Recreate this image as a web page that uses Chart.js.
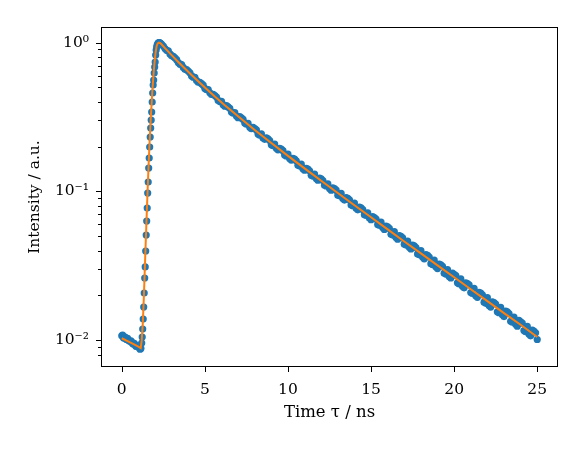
<!DOCTYPE html>
<html>
<head>
<meta charset="utf-8">
<script src="https://cdn.jsdelivr.net/npm/chart.js@4.4.1/dist/chart.umd.min.js"></script>
<style>
  html, body { margin: 0; padding: 0; background: #fff; }
  #wrap { width: 588px; height: 454px; }
</style>
</head>
<body>
<div id="wrap"><canvas id="js-decay" width="588" height="454"></canvas></div>
<script>
"use strict";

// 測定データ（立ち上がり前）
const baselineTime = [0.0, 0.05, 0.1, 0.15, 0.2, 0.25, 0.3, 0.35, 0.4, 0.45, 0.5, 0.55, 0.6, 0.65, 0.7, 0.75, 0.8, 0.85, 0.9,
  0.95, 1.0, 1.05, 1.1, 1.15];
const baselineIntensity = [0.0107, 0.0108, 0.0104, 0.0103, 0.0105, 0.0102, 0.0101, 0.0103, 0.0100, 0.0099, 0.0098, 0.0099,
  0.0097, 0.0095, 0.0094, 0.0095, 0.0093, 0.0091, 0.0091, 0.0092, 0.0090, 0.0089, 0.0087, 0.0088];

// 立ち上がり
const riseTime = [1.20, 1.23, 1.26, 1.29, 1.32, 1.35, 1.38, 1.41, 1.44, 1.47, 1.50, 1.53, 1.56, 1.59, 1.62, 1.65, 1.68, 1.71, 1.74, 1.77,
  1.80, 1.83, 1.86, 1.89, 1.92, 1.95, 1.98, 2.01, 2.04, 2.07, 2.10, 2.13, 2.16, 2.19, 2.22, 2.25, 2.28, 2.31, 2.34];
const riseIntensity = [0.00956, 0.01049, 0.01188, 0.01387, 0.0167, 0.02075, 0.02618, 0.03105, 0.03975, 0.05088, 0.06324, 0.07727,
  0.0975, 0.1156, 0.1436, 0.1678, 0.199, 0.2323, 0.2669, 0.302, 0.342, 0.3992, 0.459, 0.5193, 0.561, 0.6252, 0.686, 0.7413,
  0.8259, 0.893, 0.9355, 0.965, 0.98, 0.995, 0.999, 1.0, 0.998, 0.993, 0.985];

// 減衰（偶数側）
const decayTime = [2.4, 2.6, 2.8, 3.0, 3.2, 3.4, 3.6, 3.8, 4.0, 4.2, 4.4, 4.6, 4.8, 5.0, 5.2, 5.4, 5.6, 5.8, 6.0, 6.2, 6.4, 6.6, 6.8,
  7.0, 7.2, 7.4, 7.6, 7.8, 8.0, 8.2, 8.4, 8.6, 8.8, 9.0, 9.2, 9.4, 9.6, 9.8, 10.0, 10.2, 10.4, 10.6, 10.8, 11.0, 11.2, 11.4, 11.6,
  11.8, 12.0, 12.2, 12.4, 12.6, 12.8, 13.0, 13.2, 13.4, 13.6, 13.8, 14.0, 14.2, 14.4, 14.6, 14.8, 15.0, 15.2, 15.4, 15.6, 15.8,
  16.0, 16.2, 16.4, 16.6, 16.8, 17.0, 17.2, 17.4, 17.6, 17.8, 18.0, 18.2, 18.4, 18.6, 18.8, 19.0, 19.2, 19.4, 19.6, 19.8, 20.0,
  20.2, 20.4, 20.6, 20.8, 21.0, 21.2, 21.4, 21.6, 21.8, 22.0, 22.2, 22.4, 22.6, 22.8, 23.0, 23.2, 23.4, 23.6, 23.8, 24.0, 24.2,
  24.4, 24.6, 24.8, 25.0];
const decayIntensity = [0.975, 0.913, 0.880, 0.818, 0.790, 0.735, 0.712, 0.662, 0.645, 0.598, 0.585, 0.543, 0.530, 0.493, 0.484,
  0.449, 0.441, 0.409, 0.404, 0.374, 0.370, 0.342, 0.339, 0.313, 0.312, 0.288, 0.287, 0.264, 0.265, 0.243, 0.244, 0.224, 0.226,
  0.206, 0.208, 0.1905, 0.1925, 0.1758, 0.1780, 0.1625, 0.1648, 0.1501, 0.1524, 0.1389, 0.1412, 0.1286, 0.1309, 0.1190, 0.1213,
  0.1101, 0.1126, 0.1020, 0.1045, 0.0944, 0.0969, 0.0875, 0.0899, 0.0811, 0.0835, 0.0752, 0.0775, 0.0697, 0.0719, 0.0646, 0.0668,
  0.0599, 0.0621, 0.0555, 0.0577, 0.0515, 0.0536, 0.0477, 0.0498, 0.0442, 0.0463, 0.0410, 0.0430, 0.0380, 0.0400, 0.0352, 0.0372,
  0.0327, 0.0345, 0.0303, 0.0321, 0.0282, 0.0298, 0.0262, 0.0277, 0.0243, 0.0258, 0.0225, 0.0240, 0.0209, 0.0223, 0.0194, 0.0207,
  0.0180, 0.0193, 0.0167, 0.0179, 0.0155, 0.0166, 0.0144, 0.0155, 0.0134, 0.0143, 0.0124, 0.0133, 0.0116, 0.0124, 0.0107, 0.0115,
  0.0101];

// 減衰（奇数側）
const decayTimeOdd = [2.5, 2.7, 2.9, 3.1, 3.3, 3.5, 3.7, 3.9, 4.1, 4.3, 4.5, 4.7, 4.9, 5.1, 5.3, 5.5, 5.7, 5.9, 6.1, 6.3, 6.5, 6.7,
  6.9, 7.1, 7.3, 7.5, 7.7, 7.9, 8.1, 8.3, 8.5, 8.7, 8.9, 9.1, 9.3, 9.5, 9.7, 9.9, 10.1, 10.3, 10.5, 10.7, 10.9, 11.1, 11.3, 11.5,
  11.7, 11.9, 12.1, 12.3, 12.5, 12.7, 12.9, 13.1, 13.3, 13.5, 13.7, 13.9, 14.1, 14.3, 14.5, 14.7, 14.9, 15.1, 15.3, 15.5, 15.7,
  15.9, 16.1, 16.3, 16.5, 16.7, 16.9, 17.1, 17.3, 17.5, 17.7, 17.9, 18.1, 18.3, 18.5, 18.7, 18.9, 19.1, 19.3, 19.5, 19.7, 19.9,
  20.1, 20.3, 20.5, 20.7, 20.9, 21.1, 21.3, 21.5, 21.7, 21.9, 22.1, 22.3, 22.5, 22.7, 22.9, 23.1, 23.3, 23.5, 23.7, 23.9, 24.1,
  24.3, 24.5, 24.7, 24.9];
const decayIntensityOdd = [0.950, 0.889, 0.840, 0.808, 0.769, 0.717, 0.682, 0.659, 0.627, 0.586, 0.557, 0.542, 0.518, 0.483, 0.460,
  0.450, 0.431, 0.402, 0.383, 0.377, 0.362, 0.336, 0.321, 0.318, 0.305, 0.283, 0.270, 0.270, 0.259, 0.239, 0.229, 0.229, 0.220,
  0.203, 0.195, 0.1950, 0.1880, 0.1733, 0.1664, 0.1670, 0.1607, 0.1481, 0.1422, 0.1432, 0.1377, 0.1268, 0.1220, 0.1230, 0.1184,
  0.1088, 0.1046, 0.1058, 0.1019, 0.0934, 0.0898, 0.0910, 0.0878, 0.0802, 0.0772, 0.0784, 0.0756, 0.0689, 0.0663, 0.0677, 0.0652,
  0.0592, 0.0571, 0.0584, 0.0564, 0.0509, 0.0490, 0.0505, 0.0487, 0.0436, 0.0421, 0.0436, 0.0419, 0.0375, 0.0362, 0.0376, 0.0362,
  0.0322, 0.0311, 0.0325, 0.0314, 0.0278, 0.0268, 0.0282, 0.0272, 0.0239, 0.0230, 0.0243, 0.0235, 0.0206, 0.0199, 0.0210, 0.0202,
  0.0177, 0.0171, 0.0181, 0.0175, 0.0153, 0.0148, 0.0157, 0.0151, 0.0132, 0.0128, 0.0136, 0.0130, 0.0114, 0.0110, 0.0117, 0.0112];

// フィット曲線
const fitTime = [0.0, 0.5, 1.0, 1.14, 1.20, 1.26, 1.32, 1.38, 1.44, 1.50, 1.56, 1.62, 1.68, 1.74, 1.80, 1.86, 1.92, 1.98, 2.04,
  2.10, 2.16, 2.24, 2.32, 2.4, 2.6, 2.8, 3.0, 3.4, 3.8, 4.2, 4.6, 5.0, 5.6, 6.2, 7.0, 8.0, 9.0, 10.0, 11.0, 12.0, 13.0, 14.0,
  15.0, 16.0, 17.0, 18.0, 19.0, 20.0, 21.0, 22.0, 23.0, 24.0, 25.0];
const fitIntensity = [0.0103, 0.00966, 0.00905, 0.00885, 0.0100, 0.01264, 0.01832, 0.02871, 0.04498, 0.0694, 0.1054, 0.1552,
  0.2216, 0.3021, 0.3993, 0.5114, 0.6353, 0.7533, 0.866, 0.950, 0.988, 1.0, 0.994, 0.972, 0.920, 0.871, 0.825, 0.742, 0.670,
  0.606, 0.550, 0.500, 0.435, 0.380, 0.320, 0.259, 0.2115, 0.1735, 0.1428, 0.1179, 0.0975, 0.0808, 0.0670, 0.0556, 0.0461,
  0.0383, 0.0318, 0.0265, 0.0220, 0.0183, 0.0152, 0.0127, 0.0105];

// 目盛りラベル
const yTickValues = [0.01, 0.1, 1];
const yTickLabels = ["10⁻²", "10⁻¹", "10⁰"];

const toPoints = (xs, ys) => xs.map((x, i) => ({ x: x, y: ys[i] }));
const measPoints = toPoints(baselineTime, baselineIntensity)
  .concat(toPoints(riseTime, riseIntensity), toPoints(decayTime, decayIntensity), toPoints(decayTimeOdd, decayIntensityOdd))
  .sort((a, b) => a.x - b.x);

Chart.defaults.font.family = "'DejaVu Serif', serif";
Chart.defaults.font.size = 15.5;
Chart.defaults.color = "#000";

// 枠と目盛り線
const frameAndTicks = {
  id: "frameAndTicks",
  afterDraw(chart) {
    const { ctx, chartArea: area } = chart;
    const xScale = chart.scales.x;
    const yScale = chart.scales.y;
    ctx.save();
    ctx.strokeStyle = "#000";
    ctx.lineWidth = 1;
    ctx.beginPath();
    xScale.ticks.forEach((t) => {
      const px = Math.round(xScale.getPixelForValue(t.value)) + 0.5;
      ctx.moveTo(px, area.bottom);
      ctx.lineTo(px, area.bottom + 5);
    });
    yScale.ticks.forEach((t) => {
      const mant = t.value / Math.pow(10, Math.floor(Math.log10(t.value) + 1e-9));
      if (Math.abs(mant - Math.round(mant)) > 1e-6) return;
      const len = Math.abs(mant - 1) < 1e-6 ? 5 : 3;
      const py = Math.round(yScale.getPixelForValue(t.value)) + 0.5;
      ctx.moveTo(area.left, py);
      ctx.lineTo(area.left - len, py);
    });
    ctx.stroke();
    ctx.strokeRect(area.left + 0.5, area.top + 0.5, area.right - area.left - 1, area.bottom - area.top - 1);
    ctx.restore();
  },
};

const decay_ctx = document.getElementById("js-decay").getContext("2d");
const decayChart = new Chart(decay_ctx, {
  type: "line",
  data: {
    datasets: [
      {
        label: "fit",
        data: toPoints(fitTime, fitIntensity),
        borderColor: "#ff7f0e",
        borderWidth: 2,
        pointRadius: 0,
        tension: 0,
        fill: false,
        order: 0,
      },
      {
        label: "data",
        data: measPoints,
        showLine: false,
        pointRadius: 3.6,
        pointBorderWidth: 0,
        pointBackgroundColor: "#1f77b4",
        borderColor: "#1f77b4",
        order: 1,
      },
    ],
  },
  options: {
    responsive: false,
    animation: false,
    layout: { padding: { top: 27, right: 30, left: 0, bottom: 0 } },
    plugins: {
      legend: { display: false },
      tooltip: { enabled: false },
    },
    scales: {
      x: {
        type: "linear",
        min: -1.25,
        max: 26.25,
        grid: { display: false, drawTicks: false },
        border: { display: false },
        ticks: {
          stepSize: 5,
          includeBounds: false,
          padding: 14,
          maxRotation: 0,
        },
        title: {
          display: true,
          text: "Time τ / ns",
          font: { size: 16.5 },
          padding: { top: 0, bottom: 31 },
        },
        afterFit: (scale) => {
          scale.height = 87;
        },
      },
      y: {
        type: "logarithmic",
        min: 0.0066,
        max: 1.275,
        grid: { display: false, drawTicks: false },
        border: { display: false },
        ticks: {
          autoSkip: false,
          padding: 12,
          callback: function (value) {
            const idx = yTickValues.findIndex((v) => Math.abs(v - value) < v * 1e-6);
            return idx >= 0 ? yTickLabels[idx] : "";
          },
        },
        title: {
          display: true,
          text: "Intensity / a.u.",
          padding: { top: 26, bottom: 0 },
        },
        afterFit: (scale) => {
          scale.width = 101;
        },
      },
    },
  },
  plugins: [frameAndTicks],
});
</script>
</body>
</html>
